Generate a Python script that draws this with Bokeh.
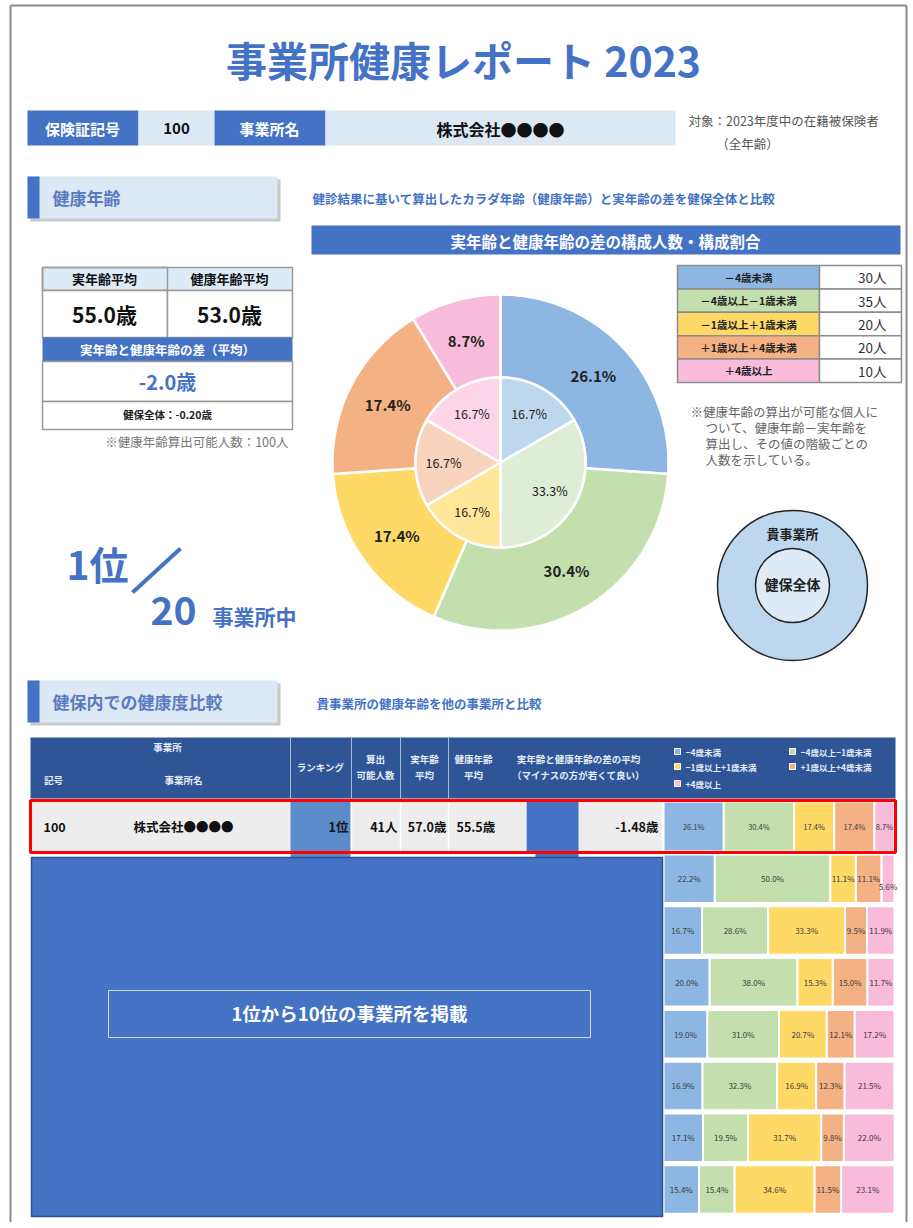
import numpy as np
from bokeh.plotting import figure
from bokeh.models import Range1d, Label
from bokeh.embed import file_html
from bokeh.resources import INLINE

FONT = "Noto Sans CJK JP"

# ---------------- data ----------------
categories = ["－4歳未満", "－4歳以上－1歳未満", "－1歳以上＋1歳未満", "＋1歳以上＋4歳未満", "＋4歳以上"]
legend_short = ["−4歳未満", "−4歳以上−1歳未満", "−1歳以上+1歳未満", "+1歳以上+4歳未満", "+4歳以上"]
company_counts = [30, 35, 20, 20, 10]
company_pct = [26.1, 30.4, 17.4, 17.4, 8.7]
overall_pct = [16.7, 33.3, 16.7, 16.7, 16.7]
outer_colors = ["#8EB6E2", "#C4DFAE", "#FFD966", "#F4B183", "#F8BBDA"]
inner_colors = ["#BDD7EE", "#DFECD6", "#FFE699", "#F8D3BD", "#FCD5E9"]

insurer_no = "100"
company_name = "株式会社●●●●"
avg_real_age = 55.0
avg_health_age = 53.0
avg_diff = -2.0
overall_diff = -0.20
n_calc = 100
rank = 1
n_offices = 20

row_rank = 1
row_n = 41
row_real = 57.0
row_health = 55.5
row_diff = -1.48
row_pct = [26.1, 30.4, 17.4, 17.4, 8.7]
next_row_diff = -1.23
other_pcts = [
    [22.2, 50.0, 11.1, 11.1, 5.6],
    [16.7, 28.6, 33.3, 9.5, 11.9],
    [20.0, 38.0, 15.3, 15.0, 11.7],
    [19.0, 31.0, 20.7, 12.1, 17.2],
    [16.9, 32.3, 16.9, 12.3, 21.5],
    [17.1, 19.5, 31.7, 9.8, 22.0],
    [15.4, 15.4, 34.6, 11.5, 23.1],
]

BLUE = "#4472C4"
LIGHT = "#DDE8F5"
DARK = "#2F5597"

W, H = 910, 1222
p = figure(width=W, height=H, x_range=Range1d(0, W), y_range=Range1d(H, 0),
           output_backend="svg", toolbar_location=None, min_border=0,
           x_axis_location=None, y_axis_location=None)
p.grid.visible = False
p.outline_line_color = None
p.background_fill_color = "white"


def T(x, y, s, size, color="#000000", align="left", bold=False, baseline="middle"):
    p.add_layout(Label(x=x, y=y, text=s, text_font=FONT, text_font_size=f"{size}px",
                       text_font_style="bold" if bold else "normal", text_color=color,
                       text_align=align, text_baseline=baseline))


def R(x0, x1, y0, y1, fill, line=None, lw=1.0):
    p.quad(left=[x0], right=[x1], top=[y0], bottom=[y1], fill_color=fill,
           line_color=line, line_width=lw)


# page frame
p.line([10, 10], [5, 1230], line_color="#8A8A8A", line_width=2)
p.line([906, 906], [5, 1230], line_color="#8A8A8A", line_width=2)
p.line([10, 906], [5, 5], line_color="#8A8A8A", line_width=2)

# title
T(463, 58, "事業所健康レポート 2023", 41, BLUE, "center", True)

# header row
R(27, 138, 110, 145, BLUE)
T(82, 128, "保険証記号", 15, "white", "center", True)
R(138, 214, 110, 145, LIGHT)
T(176, 128, insurer_no, 15, "#111", "center", True)
R(214, 325, 110, 145, BLUE)
T(269, 128, "事業所名", 15, "white", "center", True)
R(325, 675, 110, 145, LIGHT)
T(500, 128, company_name, 16, "#111", "center", True)
T(688, 120, "対象：2023年度中の在籍被保険者", 12.5, "#555")
T(747, 143, "（全年齢）", 12.5, "#555", "center")


def section(y0, y1, title):
    R(30, 280, y0 + 3, y1 + 3, "#C8C8C8")
    R(27, 277, y0, y1, LIGHT)
    R(27, 39, y0, y1, BLUE)
    T(52, (y0 + y1) / 2, title, 17, "#5B7BBF", "left", True)


section(176, 218, "健康年齢")
T(312, 198, "健診結果に基いて算出したカラダ年齢（健康年齢）と実年齢の差を健保全体と比較", 12.5, BLUE, "left", True)
R(311, 900, 225, 254, BLUE)
T(605, 240, "実年齢と健康年齢の差の構成人数・構成割合", 15.5, "white", "center", True)

# summary table
R(42, 292, 267, 290, "#DDEBF7", "#9A9A9A", 1.5)
R(42, 167, 267, 290, None, "#9A9A9A", 1.5)
R(42, 167, 290, 337, "white", "#9A9A9A", 1.5)
R(167, 292, 290, 337, "white", "#9A9A9A", 1.5)
T(104, 278, "実年齢平均", 13, "#111", "center", True)
T(229, 278, "健康年齢平均", 13, "#111", "center", True)
T(104, 313, f"{avg_real_age:.1f}歳", 21, "#111", "center", True)
T(229, 313, f"{avg_health_age:.1f}歳", 21, "#111", "center", True)
R(42, 292, 337, 361, BLUE)
T(167, 349, "実年齢と健康年齢の差（平均）", 12.5, "white", "center", True)
R(42, 292, 361, 401, "white", "#9A9A9A", 1.5)
T(167, 381, f"{avg_diff:.1f}歳", 20, BLUE, "center", True)
R(42, 292, 401, 429, "white", "#9A9A9A", 1.5)
T(167, 414, f"健保全体：{overall_diff:.2f}歳", 10.5, "#222", "center", True)
T(288, 441, f"※健康年齢算出可能人数：{n_calc}人", 12.5, "#777", "right")

# rank
T(66, 562, f"{rank}位", 39, BLUE, "left", True)
p.line([132, 180], [592, 548], line_color=BLUE, line_width=4)
T(150, 610, f"{n_offices}", 39, BLUE, "left", True)
T(212, 615, "事業所中", 21, BLUE, "left", True)

# ---------------- double donut ----------------
CX, CY, R_OUT, R_IN = 500, 462, 168, 85


def ring_poly(r0, r1, a0, a1, n=80):
    t = np.linspace(a0, a1, n)
    xo = CX + r1 * np.sin(t)
    yo = CY - r1 * np.cos(t)
    if r0 == 0:
        xs = np.concatenate([[CX], xo])
        ys = np.concatenate([[CY], yo])
    else:
        tr = t[::-1]
        xs = np.concatenate([xo, CX + r0 * np.sin(tr)])
        ys = np.concatenate([yo, CY - r0 * np.cos(tr)])
    return list(xs), list(ys)


def ring(vals, r0, r1, colors, label_r, size, bold):
    v = np.array(vals, dtype=float)
    frac = v / v.sum()
    ends = np.cumsum(frac) * 2 * np.pi
    starts = ends - frac * 2 * np.pi
    xs, ys = [], []
    for a0, a1 in zip(starts, ends):
        x, y = ring_poly(r0, r1, a0, a1)
        xs.append(x)
        ys.append(y)
    p.patches(xs, ys, fill_color=colors, line_color="white", line_width=2.5)
    for a0, a1, val in zip(starts, ends, vals):
        m = (a0 + a1) / 2
        T(CX + label_r * np.sin(m), CY - label_r * np.cos(m), f"{val:.1f}%", size, "#222", "center", bold)


ring(company_pct, R_IN, R_OUT, outer_colors, 127, 15, True)
ring(overall_pct, 0, R_IN, inner_colors, 57, 12.5, False)

# legend table (counts)
ly = 265
lh = 23.4
for i, (c, n) in enumerate(zip(categories, company_counts)):
    y0 = ly + i * lh
    R(677, 819, y0, y0 + lh, outer_colors[i], "#8C8C8C", 1.5)
    R(819, 901, y0, y0 + lh, "white", "#8C8C8C", 1.5)
    T(748, y0 + lh / 2, c, 10.5, "#222", "center", True)
    T(886, y0 + lh / 2, f"{n}人", 13.5, "#333", "right")

notes = [(690, 411, "※健康年齢の算出が可能な個人に"), (705, 427, "ついて、健康年齢－実年齢を"),
         (705, 443, "算出し、その値の階級ごとの"), (705, 459, "人数を示している。")]
for x, y, s in notes:
    T(x, y, s, 12.5, "#666")

# concentric guide
p.circle(x=[792], y=[585], radius=75, fill_color="#BDD7EE", line_color="#222", line_width=1.5)
p.circle(x=[792], y=[585], radius=37, fill_color="#DEEBF7", line_color="#222", line_width=1.5)
T(792, 533, "貴事業所", 13, "#222", "center", True)
T(792, 583, "健保全体", 14, "#222", "center", True)

# ---------------- comparison section ----------------
section(680, 722, "健保内での健康度比較")
T(316, 703, "貴事業所の健康年齢を他の事業所と比較", 12.5, BLUE, "left", True)

# header band
R(30, 895, 737, 798, DARK)
for xv in [290, 351, 400, 448]:
    p.line([xv, xv], [737, 798], line_color="#A9B9DA", line_width=1)
HC = "#E6ECF7"
T(167, 746, "事業所", 9.5, HC, "center", True)
T(53, 779, "記号", 9.5, HC, "center", True)
T(183, 779, "事業所名", 9.5, HC, "center", True)
T(320, 766, "ランキング", 9.5, HC, "center", True)
T(375, 758, "算出", 9.5, HC, "center", True)
T(375, 774, "可能人数", 9.5, HC, "center", True)
T(424, 758, "実年齢", 9.5, HC, "center", True)
T(424, 774, "平均", 9.5, HC, "center", True)
T(473, 758, "健康年齢", 9.5, HC, "center", True)
T(473, 774, "平均", 9.5, HC, "center", True)
T(578, 758, "実年齢と健康年齢の差の平均", 9.5, HC, "center", True)
T(578, 774, "（マイナスの方が若くて良い）", 9.5, HC, "center", True)
leg_pos = [(677, 751), (792, 751), (677, 766), (792, 766), (677, 783)]
for (lx, lyy), lab, col in zip(leg_pos, legend_short, outer_colors):
    R(lx - 3, lx + 3, lyy - 3, lyy + 3, col, "white", 1)
    T(lx + 8, lyy, lab, 8.5, HC, "left", True)

# slivers of the next row (behind big box)
R(290, 350, 852, 870, "#5B8BC9")
DIFF_SCALE = 35.0
ZERO_X = 578
R(ZERO_X + next_row_diff * DIFF_SCALE, ZERO_X, 852, 870, BLUE)

# highlighted row
R(30, 895, 800, 852, "#EDEDED")
R(290, 350, 800, 852, "#5B8BC9")
R(ZERO_X + row_diff * DIFF_SCALE, ZERO_X, 800, 852, BLUE)
for xv in [351, 400, 448, 662]:
    p.line([xv, xv], [800, 852], line_color="white", line_width=1.5)
T(43, 826, insurer_no, 12.5, "#111", "left", True)
T(183, 826, company_name, 12.5, "#111", "center", True)
T(348, 826, f"{row_rank}位", 12.5, "#111", "right", True)
T(397, 826, f"{row_n}人", 12.5, "#111", "right", True)
T(446, 826, f"{row_real:.1f}歳", 12.5, "#111", "right", True)
T(456, 826, f"{row_health:.1f}歳", 12.5, "#111", "left", True)
T(658, 826, f"{row_diff:.2f}歳", 12.5, "#111", "right", True)

BX0, BW = 663, 231


def stacked(pcts, y0, y1, size):
    cum = np.concatenate([[0], np.cumsum(pcts)])
    for i, v in enumerate(pcts):
        x0 = BX0 + cum[i] / 100 * BW
        x1 = BX0 + cum[i + 1] / 100 * BW
        R(x0, x1, y0, y1, outer_colors[i], "white", 2)
    for i, v in enumerate(pcts):
        xm = BX0 + (cum[i] + cum[i + 1]) / 2 / 100 * BW
        dy = 8 if v < 6 else 0
        T(xm, (y0 + y1) / 2 + dy, f"{v:.1f}%", size, "#3A3A3A", "center")


stacked(row_pct, 801, 851, 7.5)
for k, pcts in enumerate(other_pcts):
    y0 = 854 + k * 51.8
    stacked(pcts, y0, y0 + 48.5, 8)

# red highlight frame
R(30, 895, 800, 852, None, "#FF0000", 3)

# big masking box
R(31, 662, 857, 1216, BLUE, "#2F4F8F", 1.5)
R(108, 590, 990, 1037, None, "#D9D9D9", 1)
T(349, 1012, "1位から10位の事業所を掲載", 18.5, "white", "center", True)

open("out.html", "w").write(file_html(p, INLINE))
